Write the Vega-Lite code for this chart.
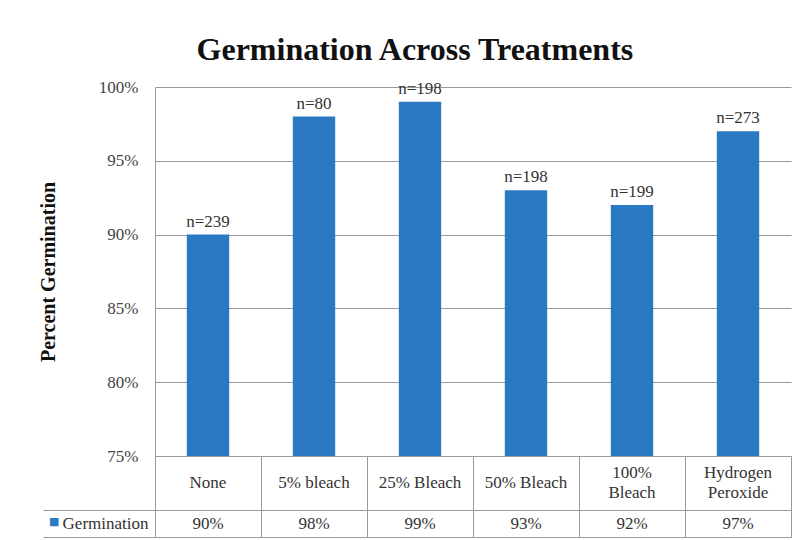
{
  "$schema": "https://vega.github.io/schema/vega-lite/v6.json",
  "title": {"text": "Germination Across Treatments", "font": "Liberation Serif", "fontSize": 32, "fontWeight": "bold", "color": "#111111", "anchor": "middle", "offset": 11},
  "padding": {"left": 38, "top": 34, "right": 14, "bottom": 0},
  "spacing": 0,
  "bounds": "flush",
  "config": {
    "font": "Liberation Serif, Times New Roman, serif",
    "view": {"stroke": null}
  },
  "datasets": {
    "d": [
      {"treatment": "None", "label": "None", "pct": 90, "n": 239},
      {"treatment": "5% bleach", "label": "5% bleach", "pct": 98, "n": 80},
      {"treatment": "25% Bleach", "label": "25% Bleach", "pct": 99, "n": 198},
      {"treatment": "50% Bleach", "label": "50% Bleach", "pct": 93, "n": 198},
      {"treatment": "100% Bleach", "label": "100%\nBleach", "pct": 92, "n": 199},
      {"treatment": "Hydrogen Peroxide", "label": "Hydrogen\nPeroxide", "pct": 97, "n": 273}
    ]
  },
  "vconcat": [
    {
      "width": 636,
      "height": 369,
      "data": {"name": "d"},
      "encoding": {
        "x": {"field": "treatment", "type": "nominal", "sort": null, "scale": {"type": "band", "paddingInner": 0.6, "paddingOuter": 0.3}, "axis": null},
        "y": {"field": "pct", "type": "quantitative", "scale": {"domain": [75, 100], "zero": false},
          "axis": {"values": [75, 80, 85, 90, 95, 100], "labelExpr": "datum.value + '%'", "labelFont": "Liberation Serif, Times New Roman, serif", "labelFontSize": 17, "labelColor": "#444444", "labelPadding": 17, "ticks": false, "grid": true, "gridColor": "#9a9a9a", "domain": true, "domainColor": "#9a9a9a", "title": "Percent Germination", "titleFont": "Liberation Serif", "titleFontSize": 20, "titleFontWeight": "bold", "titleColor": "#111111", "titlePadding": 40}}
      },
      "layer": [
        {"mark": {"type": "bar", "color": "#2A79C2"}, "encoding": {"y2": {"datum": 75}}},
        {"mark": {"type": "text", "font": "Liberation Serif, Times New Roman, serif", "baseline": "bottom", "dy": -4, "fontSize": 17, "color": "#333333", "text": {"expr": "'n=' + datum.n"}}}
      ]
    },
    {
      "width": 636,
      "height": 81,
      "data": {"name": "d"},
      "view": {"stroke": "#9a9a9a"},
      "encoding": {
        "x": {"field": "treatment", "type": "nominal", "sort": null, "scale": {"type": "band", "paddingInner": 0, "paddingOuter": 0},
          "axis": {"grid": true, "tickBand": "extent", "gridColor": "#9a9a9a", "labels": false, "ticks": false, "domain": false, "title": null}},
        "y": {"datum": 2, "type": "quantitative", "scale": {"domain": [0, 3]},
          "axis": {
            "values": [0, 0.5, 1],
            "title": "■",
            "titleFont": "DejaVu Sans",
            "titleFontSize": 11,
            "titleColor": "#2A79C2",
            "titleAngle": 0,
            "titleAlign": "left",
            "titleBaseline": "middle",
            "titlePadding": -6,
            "titleY": 65,
            "domain": false,
            "grid": true,
            "gridColor": {"condition": {"test": "datum.value == 1", "value": "#9a9a9a"}, "value": "transparent"},
            "ticks": true,
            "tickSize": 112,
            "tickColor": {"condition": {"test": "datum.value == 0.5", "value": "transparent"}, "value": "#9a9a9a"},
            "labelExpr": "datum.value == 0.5 ? 'Germination' : ''",
            "labelPadding": -105,
            "labelFont": "Liberation Serif, Times New Roman, serif",
            "labelColor": "#333333",
            "labelFontSize": 17,
            "labelAlign": "right",
            "labelBaseline": "middle",
            "labelOverlap": false,
            "labelBound": false,
            "labelFlush": false
          }}
      },
      "layer": [
        {
          "transform": [{"filter": "indexof(datum.label, '\\n') < 0"}],
          "mark": {"type": "text", "font": "Liberation Serif, Times New Roman, serif", "fontSize": 17, "color": "#333333", "baseline": "middle", "text": {"expr": "datum.label"}}
        },
        {
          "transform": [{"filter": "indexof(datum.label, '\\n') >= 0"}],
          "mark": {"type": "text", "font": "Liberation Serif, Times New Roman, serif", "fontSize": 17, "color": "#333333", "baseline": "middle", "lineBreak": "\n", "lineHeight": 20, "dy": -10},
          "encoding": {"text": {"field": "label"}}
        },
        {
          "mark": {"type": "text", "font": "Liberation Serif, Times New Roman, serif", "fontSize": 17, "color": "#333333", "baseline": "middle", "text": {"expr": "datum.pct + '%'"}},
          "encoding": {"y": {"datum": 0.5, "type": "quantitative"}}
        }
      ]
    }
  ]
}
